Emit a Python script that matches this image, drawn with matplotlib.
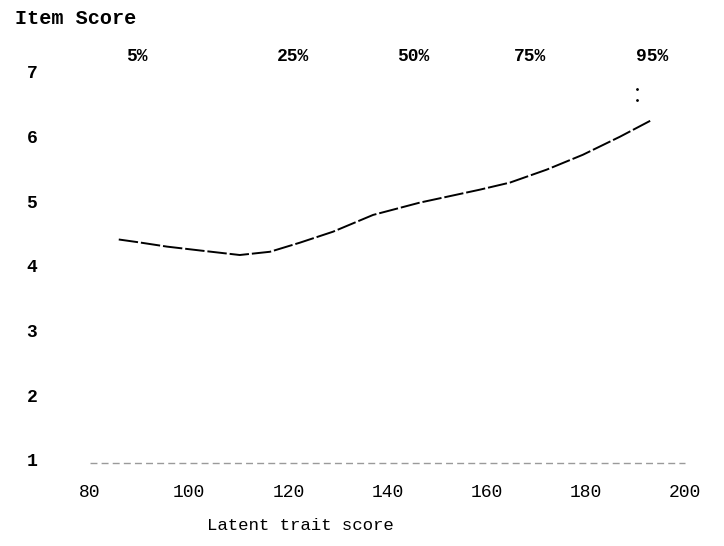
import matplotlib
matplotlib.use("Agg")
import matplotlib.pyplot as plt
import matplotlib.transforms as mtransforms

# curve
latent = [85.8, 89.5, 95.5, 102.2, 110.2, 116.3, 122.3, 129.0, 137.1,
          146.5, 158.6, 164.7, 172.1, 179.4, 186.9, 193.1]
item_score = [4.41, 4.37, 4.30, 4.24, 4.17, 4.22, 4.36, 4.53, 4.79,
              4.98, 5.18, 5.29, 5.49, 5.72, 6.00, 6.25]

# percentile markers along the top
pct_labels = ["5%", "25%", "50%", "75%", "95%"]
pct_pos = [89.5, 120.9, 145.2, 168.7, 193.3]

x_ticks = [80, 100, 120, 140, 160, 180, 200]
y_ticks = [1, 2, 3, 4, 5, 6, 7]

mono = "Liberation Mono"

fig = plt.figure(figsize=(7.24, 5.46), dpi=100)
ax = fig.add_axes([90 / 724, 86 / 546, 595 / 724, 388 / 546])

ax.plot(latent, item_score, color="black", lw=1.4,
        linestyle=(0, (10, 1.5)))

# faint remnant of the baseline in the scan
ax.axhline(0.96, color="#9a9a9a", lw=1.0, linestyle=(0, (5, 3)),
           clip_on=False)
# stray dots near the 95% mark
ax.plot([190.3, 190.3], [6.73, 6.56], ls="none", marker=".", ms=2,
        color="black")

ax.set_xlim(80, 200)
ax.set_ylim(1, 7)
ax.set_xticks(x_ticks)
ax.set_yticks(y_ticks)
ax.set_xticklabels([str(v) for v in x_ticks], fontfamily=mono, fontsize=13)
ax.set_yticklabels([str(v) for v in y_ticks], fontfamily=mono, fontsize=13,
                   fontweight="bold")
ax.tick_params(axis="x", length=0, pad=17)
ax.tick_params(axis="y", length=0, pad=38)
for s in ax.spines.values():
    s.set_visible(False)

ax.set_xlabel("Latent trait score", fontfamily=mono, fontsize=12.5)
ax.xaxis.set_label_coords(0.353, -0.15)

trans = mtransforms.blended_transform_factory(ax.transData, ax.transAxes)
for lab, xp in zip(pct_labels, pct_pos):
    ax.text(xp, 1.04, lab, transform=trans, ha="center", va="center",
            fontfamily=mono, fontsize=13, fontweight="bold")

fig.text(15 / 724, 1 - 18 / 546, "Item Score", ha="left", va="center",
         fontfamily=mono, fontsize=14.5, fontweight="bold")

fig.savefig("out.png", dpi=100, facecolor="white")
